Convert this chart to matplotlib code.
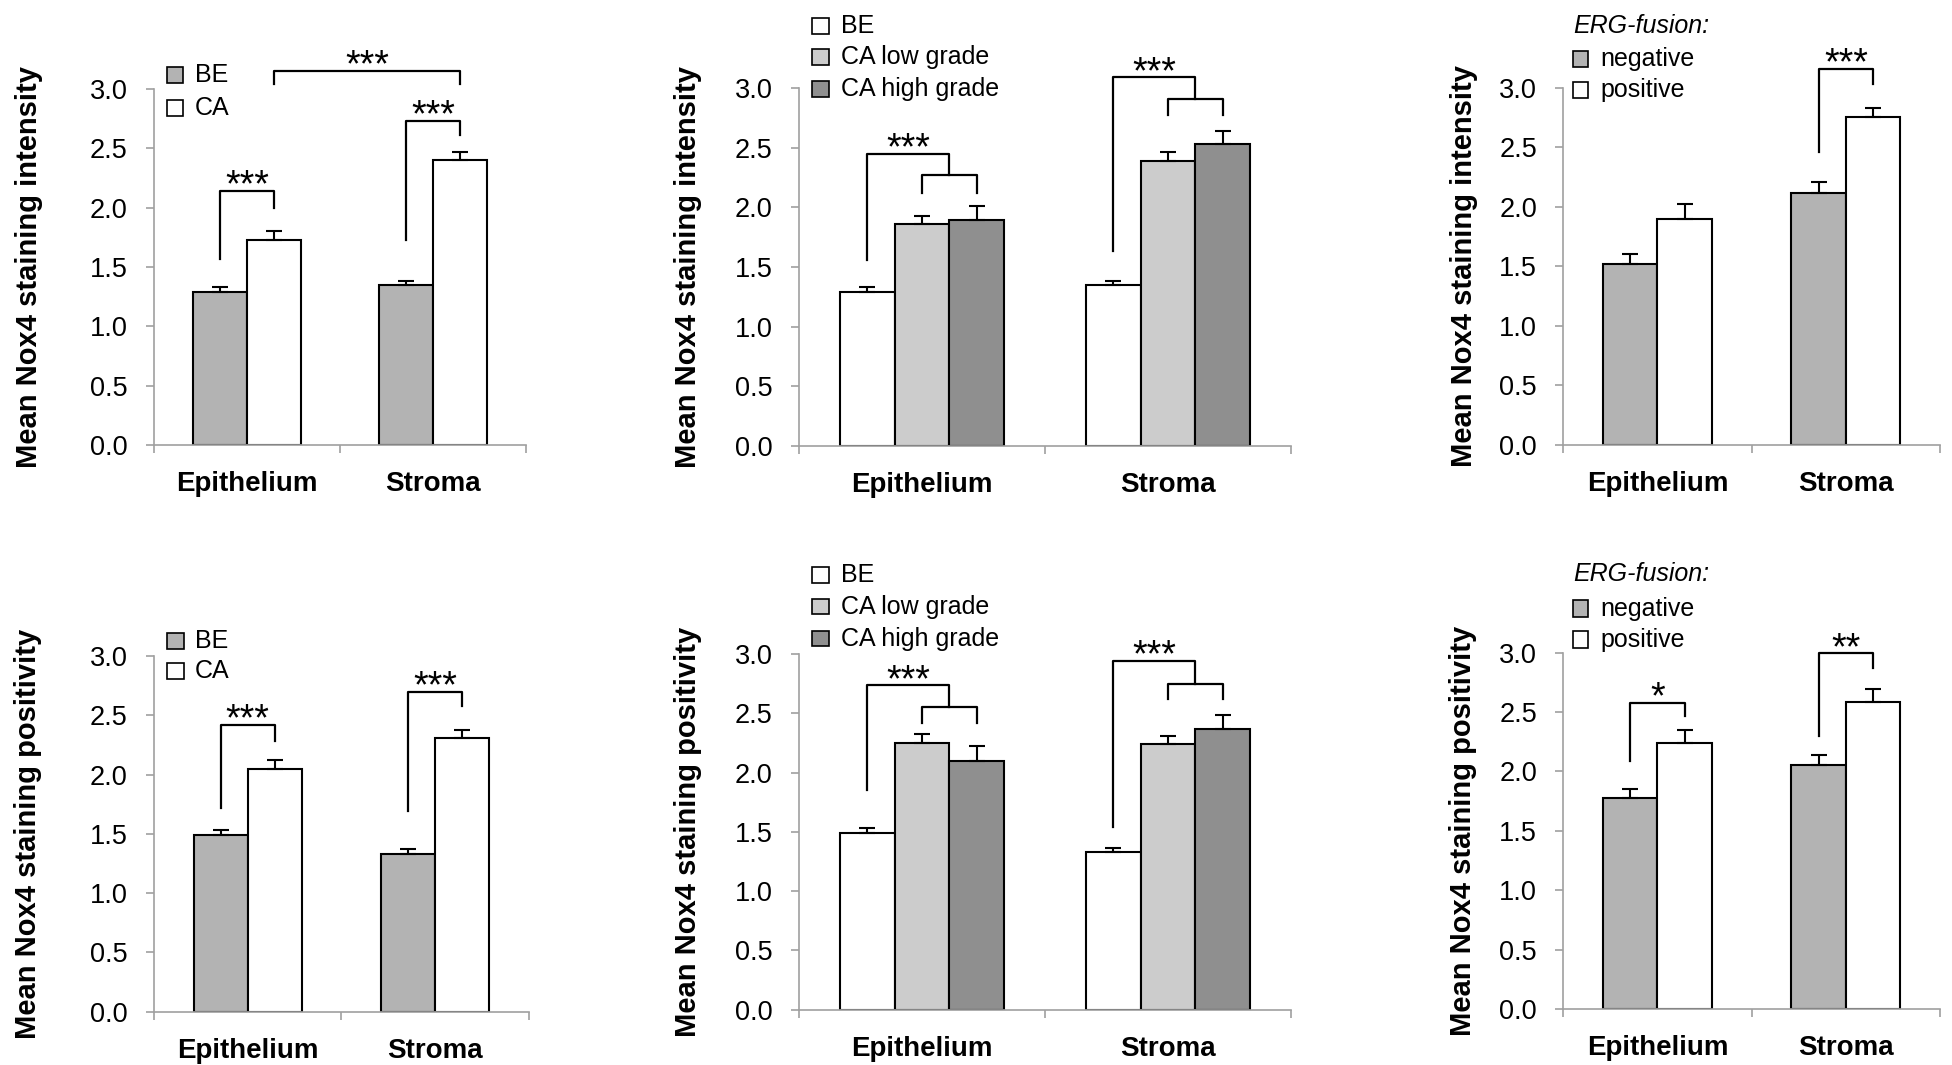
import matplotlib.pyplot as plt
from matplotlib.patches import Rectangle
import numpy as np

plt.rcParams['font.family'] = ['Liberation Sans', 'DejaVu Sans']

categories = ['Epithelium', 'Stroma']
yticks = [0.0, 0.5, 1.0, 1.5, 2.0, 2.5, 3.0]

# --- top row: staining intensity ---
int_be = [1.29, 1.345]
int_be_err = [0.04, 0.035]
int_ca = [1.73, 2.40]
int_ca_err = [0.07, 0.07]

grade_int_be = [1.29, 1.347]
grade_int_be_err = [0.04, 0.035]
grade_int_low = [1.86, 2.39]
grade_int_low_err = [0.07, 0.07]
grade_int_high = [1.89, 2.53]
grade_int_high_err = [0.12, 0.11]

erg_int_neg = [1.52, 2.12]
erg_int_neg_err = [0.08, 0.09]
erg_int_pos = [1.90, 2.75]
erg_int_pos_err = [0.12, 0.08]

# --- bottom row: staining positivity ---
pos_be = [1.49, 1.33]
pos_be_err = [0.045, 0.04]
pos_ca = [2.05, 2.305]
pos_ca_err = [0.07, 0.075]

grade_pos_be = [1.49, 1.327]
grade_pos_be_err = [0.045, 0.04]
grade_pos_low = [2.246, 2.24]
grade_pos_low_err = [0.08, 0.07]
grade_pos_high = [2.10, 2.364]
grade_pos_high_err = [0.12, 0.12]

erg_pos_neg = [1.776, 2.051]
erg_pos_neg_err = [0.075, 0.09]
erg_pos_pos = [2.239, 2.582]
erg_pos_pos_err = [0.11, 0.11]

GRAY = '#b3b3b3'
LOW = '#cccccc'
HIGH = '#8f8f8f'
SPINE = '#a0a0a0'

TICK_FS = 19.5
CAT_FS = 20
KEY_FS = 18
STAR_FS = 27


def setup(ax, ylabel, label_x):
    ax.set_xlim(-0.5, 1.5)
    ax.set_ylim(0, 3)
    for s in ['top', 'right']:
        ax.spines[s].set_visible(False)
    for s in ['left', 'bottom']:
        ax.spines[s].set_color(SPINE)
        ax.spines[s].set_linewidth(1.2)
    ax.set_yticks(yticks)
    ax.set_yticklabels(['%.1f' % t for t in yticks], fontsize=TICK_FS)
    ax.set_xticks([-0.5, 0.5, 1.5])
    ax.set_xticklabels([])
    ax.set_xticks([0, 1], minor=True)
    ax.set_xticklabels(categories, minor=True, fontsize=CAT_FS, fontweight='bold')
    ax.tick_params(axis='x', which='minor', length=0, pad=19)
    ax.tick_params(axis='x', which='major', length=6, color=SPINE, width=1.2)
    ax.tick_params(axis='y', length=6, color=SPINE, width=1.2, pad=13.0)
    ax.set_ylabel(ylabel, fontsize=21, fontweight='bold')
    ax.yaxis.set_label_coords(label_x, 0.5)


def bars(ax, series, errs, colors, width):
    x = np.arange(len(categories))
    n = len(series)
    offs = (np.arange(n) - (n - 1) / 2) * width
    for vals, err, c, off in zip(series, errs, colors, offs):
        ax.bar(x + off, vals, width, color=c, edgecolor='black', linewidth=1.5, zorder=2)
        ax.errorbar(x + off, vals, yerr=[np.zeros(len(vals)), err], fmt='none',
                    ecolor='black', elinewidth=1.5, capsize=6, capthick=1.5, zorder=3)
    # bar centres [category][bar]
    return x[:, None] + offs[None, :]


def stars(ax, x, y, s, dy=-4):
    ax.annotate(s, xy=(x, y), xytext=(0, dy), textcoords='offset points', ha='center',
                va='baseline', fontsize=STAR_FS, annotation_clip=False)


def bracket(ax, x1, x2, y1, y2, top, s):
    ax.plot([x1, x1, x2, x2], [y1, top, top, y2], color='black', lw=1.6,
            clip_on=False, zorder=4)
    stars(ax, (x1 + x2) / 2, top, s)


def group_bracket(ax, c, y_left, top, y_mid, y_inner, s):
    # BE bar vs the two carcinoma bars
    mid = (c[1] + c[2]) / 2
    ax.plot([c[0], c[0], mid, mid], [y_left, top, top, y_mid], color='black', lw=1.6,
            clip_on=False, zorder=4)
    ax.plot([c[1], c[1], c[2], c[2]], [y_inner, y_mid, y_mid, y_inner], color='black',
            lw=1.6, clip_on=False, zorder=4)
    stars(ax, (c[0] + mid) / 2, top, s)


def key(ax, labels, colors, x_sq, w, h, x_txt, ys, title=None, title_y=None):
    for lab, col, y in zip(labels, colors, ys):
        ax.add_patch(Rectangle((x_sq, y - h / 2), w, h, facecolor=col, edgecolor='black',
                               lw=1.2, clip_on=False, zorder=5))
        ax.text(x_txt, y, lab, va='center', ha='left', fontsize=KEY_FS, clip_on=False)
    if title:
        ax.text(x_sq, title_y, title, va='center', ha='left', fontsize=KEY_FS,
                style='italic', clip_on=False)


fig = plt.figure(figsize=(19.52, 10.65), dpi=100)

ax1 = fig.add_axes([0.07889, 0.58216, 0.19057, 0.33427])
ax2 = fig.add_axes([0.40943, 0.58122, 0.25184, 0.33615])
ax3 = fig.add_axes([0.80087, 0.58216, 0.19303, 0.33549])
ax4 = fig.add_axes([0.07889, 0.05005, 0.19211, 0.33399])
ax5 = fig.add_axes([0.40943, 0.05192, 0.25184, 0.33400])
ax6 = fig.add_axes([0.80087, 0.05258, 0.19303, 0.33455])

W2 = 0.289
W3 = 0.2228

# panel 1
setup(ax1, 'Mean Nox4 staining intensity', -0.298)
c = bars(ax1, [int_be, int_ca], [int_be_err, int_ca_err], [GRAY, 'white'], W2)
bracket(ax1, c[0][0], c[0][1], 1.57, 2.0, 2.14, '***')
bracket(ax1, c[1][0], c[1][1], 1.73, 2.61, 2.73, '***')
bracket(ax1, c[0][1], c[1][1], 3.04, 3.04, 3.15, '***')
key(ax1, ['BE', 'CA'], [GRAY, 'white'], -0.43, 0.088, 0.135, -0.28, [3.12, 2.84])

# panel 2
setup(ax2, 'Mean Nox4 staining intensity', -0.198)
c = bars(ax2, [grade_int_be, grade_int_low, grade_int_high],
         [grade_int_be_err, grade_int_low_err, grade_int_high_err], ['white', LOW, HIGH], W3)
group_bracket(ax2, c[0], 1.56, 2.445, 2.27, 2.12, '***')
group_bracket(ax2, c[1], 1.63, 3.09, 2.91, 2.77, '***')
key(ax2, ['BE', 'CA low grade', 'CA high grade'], ['white', LOW, HIGH], -0.446, 0.068, 0.13,
    -0.33, [3.52, 3.26, 2.99])

# panel 3
setup(ax3, 'Mean Nox4 staining intensity', -0.226)
c = bars(ax3, [erg_int_neg, erg_int_pos], [erg_int_neg_err, erg_int_pos_err], [GRAY, 'white'], W2)
bracket(ax3, c[1][0], c[1][1], 2.457, 3.03, 3.16, '***')
key(ax3, ['negative', 'positive'], [GRAY, 'white'], -0.449, 0.08, 0.14, -0.305, [3.24, 2.98],
    title='ERG-fusion:', title_y=3.52)

# panel 4
setup(ax4, 'Mean Nox4 staining positivity', -0.298)
c = bars(ax4, [pos_be, pos_ca], [pos_be_err, pos_ca_err], [GRAY, 'white'], W2)
bracket(ax4, c[0][0], c[0][1], 1.715, 2.285, 2.42, '***')
bracket(ax4, c[1][0], c[1][1], 1.695, 2.58, 2.70, '***')
key(ax4, ['BE', 'CA'], [GRAY, 'white'], -0.43, 0.088, 0.135, -0.28, [3.13, 2.87])

# panel 5
setup(ax5, 'Mean Nox4 staining positivity', -0.198)
c = bars(ax5, [grade_pos_be, grade_pos_low, grade_pos_high],
         [grade_pos_be_err, grade_pos_low_err, grade_pos_high_err], ['white', LOW, HIGH], W3)
group_bracket(ax5, c[0], 1.852, 2.735, 2.55, 2.415, '***')
group_bracket(ax5, c[1], 1.538, 2.94, 2.75, 2.617, '***')
key(ax5, ['BE', 'CA low grade', 'CA high grade'], ['white', LOW, HIGH], -0.446, 0.068, 0.13,
    -0.33, [3.665, 3.40, 3.13])

# panel 6
setup(ax6, 'Mean Nox4 staining positivity', -0.23)
c = bars(ax6, [erg_pos_neg, erg_pos_pos], [erg_pos_neg_err, erg_pos_pos_err], [GRAY, 'white'], W2)
bracket(ax6, c[0][0], c[0][1], 2.088, 2.47, 2.58, '*')
bracket(ax6, c[1][0], c[1][1], 2.30, 2.868, 2.994, '**')
key(ax6, ['negative', 'positive'], [GRAY, 'white'], -0.449, 0.08, 0.14, -0.305, [3.37, 3.11],
    title='ERG-fusion:', title_y=3.66)

fig.savefig('out.png', dpi=100)
